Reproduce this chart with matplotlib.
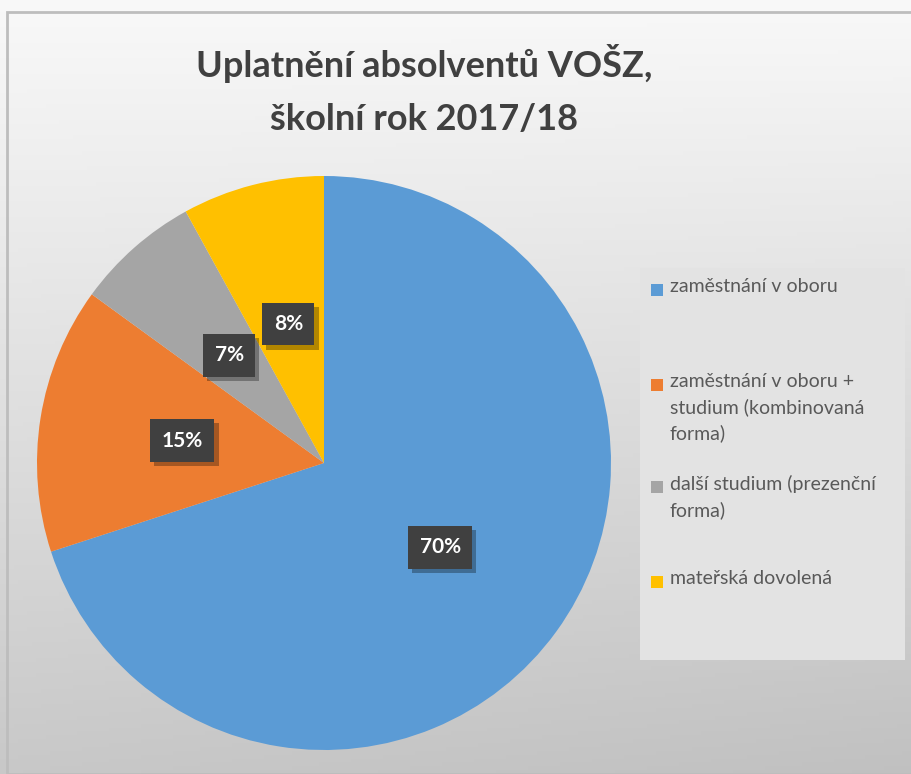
import numpy as np
import matplotlib.pyplot as plt
import matplotlib.patheffects as pe
from matplotlib.patches import Rectangle

title = "Uplatnění absolventů VOŠZ,\nškolní rok 2017/18"
categories = ["zaměstnání v oboru",
              "zaměstnání v oboru +\nstudium (kombinovaná\nforma)",
              "další studium (prezenční\nforma)",
              "mateřská dovolená"]
values = [70, 15, 7, 8]
colors = ["#5B9BD5", "#ED7D31", "#A5A5A5", "#FFC000"]

plt.rcParams["font.family"] = ["Lato", "DejaVu Sans"]

W, H = 911, 774
fig = plt.figure(figsize=(W / 100, H / 100), dpi=100)

# background gradient
bg = fig.add_axes([0, 0, 1, 1], zorder=-10)
yy, xx = np.mgrid[0:1:200j, 0:1:200j]
shade = 0.975 - 0.19 * yy - 0.03 * xx * yy
bg.imshow(np.dstack([shade] * 3), extent=[0, 1, 0, 1], origin="upper", aspect="auto")
bg.add_patch(Rectangle((7 / W, 0), 1, 1 - 12 / H, fill=False, edgecolor="#bdbdbd", lw=2))
bg.set_xlim(0, 1)
bg.set_ylim(0, 1)
bg.axis("off")

# legend box
bg.add_patch(Rectangle((640 / W, 1 - 660 / H), 265 / W, 392 / H,
                       facecolor="#e3e3e3", edgecolor="none"))

fig.text(424 / W, 1 - 90 / H, title, ha="center", va="center", fontsize=26,
         fontweight="bold", color="#404040", linespacing=1.75)

ax = fig.add_axes([37 / W, (774 - 463 - 287) / H, 574 / W, 574 / H])
wedges, texts, autotexts = ax.pie(values, colors=colors, startangle=90, counterclock=False,
                                  autopct="%d%%", pctdistance=0.5, radius=1,
                                  wedgeprops=dict(linewidth=0))
for t in autotexts:
    t.set_color("white")
    t.set_fontsize(15)
    t.set_fontweight("bold")
    t.set_bbox(dict(boxstyle="square,pad=0.55", facecolor="#404040", edgecolor="none"))
    t.get_bbox_patch().set_path_effects([
        pe.SimplePatchShadow(offset=(3, -3), shadow_rgbFace="black", alpha=0.3),
        pe.Normal()])
ax.set_xlim(-1, 1)
ax.set_ylim(-1, 1)
ax.set_aspect("equal")

# legend entries
legend_y = [290, 385, 487, 582]
for c, lab, y in zip(colors, categories, legend_y):
    bg.add_patch(Rectangle((651 / W, 1 - (y + 6) / H), 12 / W, 12 / H,
                           facecolor=c, edgecolor="none"))
    fig.text(670 / W, 1 - (y - 12) / H, lab, ha="left", va="top", fontsize=14,
             color="#595959", linespacing=1.55)

fig.savefig("out.png", dpi=100)
